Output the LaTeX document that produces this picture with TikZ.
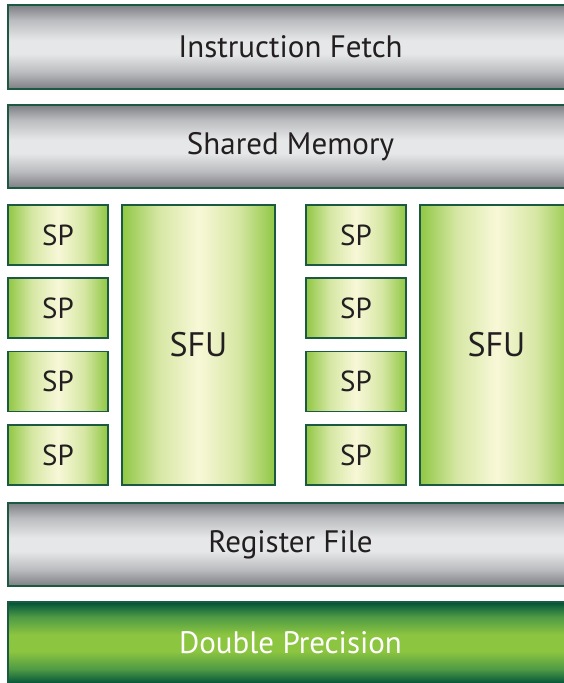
\documentclass[tikz,border=0pt]{standalone}
\usepackage{fontspec}
\setmainfont{PT Sans}

% Palette
\definecolor{edgegreen}{HTML}{1B5A40}
\definecolor{inkdark}{HTML}{231F20}
\definecolor{metaldark}{HTML}{7E7F84}
\definecolor{metalmid}{HTML}{BBBCBF}
\definecolor{metallight}{HTML}{E6E7E8}
\definecolor{leafedge}{HTML}{90C744}
\definecolor{leafmid}{HTML}{D6E7A4}
\definecolor{leafpale}{HTML}{F8F8D8}
\definecolor{deepgreen}{HTML}{00513A}
\definecolor{midgreen}{HTML}{4E9A45}
\definecolor{brightgreen}{HTML}{8CC540}

% Shadings (the central 25bp--75bp band is mapped onto each box)
\pgfdeclareverticalshading{metal}{100bp}{%
  color(0bp)=(metaldark); color(25bp)=(metaldark); color(35bp)=(metalmid);
  color(46bp)=(metallight); color(54bp)=(metallight); color(66bp)=(metalmid);
  color(75bp)=(metaldark); color(100bp)=(metaldark)}
\pgfdeclarehorizontalshading{leaf}{100bp}{%
  color(0bp)=(leafedge); color(25bp)=(leafedge); color(37bp)=(leafmid);
  color(50bp)=(leafpale); color(63bp)=(leafmid);
  color(75bp)=(leafedge); color(100bp)=(leafedge)}
\pgfdeclareverticalshading{dpgreen}{100bp}{%
  color(0bp)=(deepgreen); color(25bp)=(deepgreen); color(34bp)=(midgreen);
  color(45bp)=(brightgreen); color(55bp)=(brightgreen); color(66bp)=(midgreen);
  color(75bp)=(deepgreen); color(100bp)=(deepgreen)}

\tikzset{
  unit/.style={draw=edgegreen, line width=1.6pt, inner sep=0pt,
    text=inkdark, font=\fontsize{29}{32}\selectfont},
  bar/.style={unit, shading=metal, minimum width=565pt, minimum height=83pt,
    font=\fontsize{31}{34}\selectfont},
  spbox/.style={unit, shading=leaf, minimum width=100pt, minimum height=60pt},
  sfubox/.style={unit, shading=leaf, minimum width=153pt, minimum height=280pt,
    font=\fontsize{34}{38}\selectfont},
  dpbar/.style={bar, shading=dpgreen, minimum height=82pt, text=white}
}

\begin{document}
\begin{tikzpicture}[x=1pt, y=-1pt]
  \useasboundingbox (0,0) rectangle (564,683);

  \node[bar, minimum height=84pt] (fetch) at (290.5,47) {Instruction Fetch};
  \node[bar] (shmem) at (290.5,146.5) {Shared Memory};

  % left cluster
  \node[spbox] (spa1) at (58,235) {SP};
  \node[spbox] (spa2) at (58,308) {SP};
  \node[spbox] (spa3) at (58,381.5) {SP};
  \node[spbox] (spa4) at (58,455) {SP};
  \node[sfubox] (sfua) at (198.5,345) {SFU};

  % right cluster
  \node[spbox] (spb1) at (356,235) {SP};
  \node[spbox] (spb2) at (356,308) {SP};
  \node[spbox] (spb3) at (356,381.5) {SP};
  \node[spbox] (spb4) at (356,455) {SP};
  \node[sfubox] (sfub) at (496.5,345) {SFU};

  \node[bar] (regs) at (290.5,544.5) {Register File};
  \node[dpbar] (dp) at (290.5,643) {Double Precision};
\end{tikzpicture}
\end{document}
